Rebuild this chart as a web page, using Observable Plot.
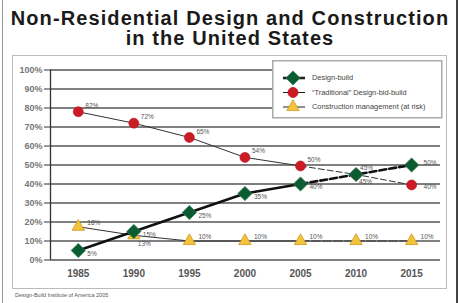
<!DOCTYPE html>
<html><head><meta charset="utf-8">
<script src="https://cdn.jsdelivr.net/npm/d3@7"></script>
<script src="https://cdn.jsdelivr.net/npm/@observablehq/plot@0.6"></script>
<style>
body{margin:0;background:#fff;font-family:"Liberation Sans",Arial,sans-serif;}
#wrap{position:relative;width:460px;height:303px;overflow:hidden;background:#fff;}
#outer{position:absolute;left:2px;top:-2px;width:453px;height:307px;border-left:1.5px solid #999;border-right:2px solid #444;}
#box{position:absolute;left:12px;top:55px;width:433px;height:232px;border:1.5px solid #bbb;}
#chart{position:absolute;left:0;top:0;}
#title{position:absolute;left:0;top:8px;width:460px;text-align:center;font-size:20px;font-weight:bold;line-height:20px;color:#1a1a1a;letter-spacing:1.1px;}
#caption{position:absolute;left:15px;top:292px;font-size:5.5px;color:#555;}
#legend{position:absolute;left:272px;top:60px;}
</style></head><body>
<div id="wrap">
  <div id="outer"></div>
  <div id="box"></div>
  <div id="chart"></div>
  <div id="legend"></div>
  <div id="title">Non-Residential Design and Construction<br>in the United States</div>
  <div id="caption">Design-Build Institute of America 2005</div>
</div>
<script>
const years = [1985, 1990, 1995, 2000, 2005, 2010, 2015];
const designBuild = [5, 15, 25, 35, 40, 45, 50];
const designBuildLabels = ["5%", "15%", "25%", "35%", "40%", "45%", "50%"];
const traditional = [78, 72, 64.5, 54, 49.5, 45, 39.5];
const traditionalLabels = ["82%", "72%", "65%", "54%", "50%", "45%", "40%"];
const constructionMgmt = [17.5, 13, 10, 10, 10, 10, 10];
const constructionMgmtLabels = ["18%", "13%", "10%", "10%", "10%", "10%", "10%"];
const yTicks = [0, 10, 20, 30, 40, 50, 60, 70, 80, 90, 100];
const seriesNames = ["Design-build", "\u201cTraditional\u201d Design-bid-build", "Construction management (at risk)"];
const lastActualYear = 2005;

const rows = (vals, labels, name) => years.map((year, i) => ({year, value: vals[i], label: labels[i], series: name}));
const dbRows = rows(designBuild, designBuildLabels, seriesNames[0]);
const trRows = rows(traditional, traditionalLabels, seriesNames[1]);
const cmRows = rows(constructionMgmt, constructionMgmtLabels, seriesNames[2]);

const GREEN = "#0b5b33", RED = "#cc1b25", YELLOW = "#f4c23c";
const lab = {fontSize: 6.5, fill: "#555", textAnchor: "start"};

function lines(data, style) {
  return [
    Plot.line(data.filter(d => d.year <= lastActualYear), {x: "year", y: "value", ...style}),
    Plot.line(data.filter(d => d.year >= lastActualYear), {x: "year", y: "value", ...style, strokeDasharray: style.dash})
  ];
}

const chart = Plot.plot({
  width: 460, height: 303,
  marginLeft: 50, marginRight: 20, marginTop: 69.5, marginBottom: 43.5,
  x: {domain: [1982.5, 2017.6]},
  y: {domain: [0, 100]},
  style: {background: "transparent", overflow: "visible", fontFamily: "Liberation Sans, Arial, sans-serif"},
  marks: [
    Plot.ruleY(yTicks, {stroke: "#555", strokeWidth: 1.3}),
    Plot.ruleX([1982.5], {y1: 0, y2: 100, stroke: "#333", strokeWidth: 1.3}),
    Plot.axisY({ticks: yTicks, tickSize: 6, tickPadding: 2, tickFormat: d => d + "%", fontSize: 9, fontWeight: "bold", fill: "#777", stroke: "#333", label: null}),
    Plot.axisX({ticks: years, tickSize: 0, tickPadding: 10, tickFormat: d => String(d), fontSize: 10, fontWeight: "bold", fill: "#555", label: null}),
    ...lines(cmRows, {stroke: "#333", strokeWidth: 1, dash: "9,2"}),
    ...lines(trRows, {stroke: "#333", strokeWidth: 1, dash: "6,3"}),
    ...lines(dbRows, {stroke: "#111", strokeWidth: 2.6, dash: "7,3"}),
    Plot.dot(cmRows, {x: "year", y: "value", symbol: "triangle", r: 4.6, fill: YELLOW, stroke: "#c99a1e", strokeWidth: 0.8}),
    Plot.dot(trRows, {x: "year", y: "value", r: 5, fill: RED, stroke: "#b0141c", strokeWidth: 0.6}),
    Plot.dot(dbRows, {x: "year", y: "value", symbol: "diamond2", r: 6.4, fill: GREEN, stroke: "#2e7a50", strokeWidth: 0.8}),
    // value labels
    Plot.text(cmRows.filter(d => d.year !== 1990), {x: "year", y: "value", text: "label", ...lab, dx: 9, dy: -4}),
    Plot.text(cmRows.filter(d => d.year === 1990), {x: "year", y: "value", text: "label", ...lab, dx: 4, dy: 9}),
    Plot.text(trRows.filter(d => d.year <= 2005), {x: "year", y: "value", text: "label", ...lab, dx: 7, dy: -6}),
    Plot.text(trRows.filter(d => d.year === 2010), {x: "year", y: "value", text: "label", ...lab, dx: 3, dy: 7}),
    Plot.text(trRows.filter(d => d.year === 2015), {x: "year", y: "value", text: "label", ...lab, dx: 12, dy: 2}),
    Plot.text(dbRows.filter(d => d.year !== 2010 && d.year !== 2015), {x: "year", y: "value", text: "label", ...lab, dx: 9, dy: 3}),
    Plot.text(dbRows.filter(d => d.year === 2010), {x: "year", y: "value", text: "label", ...lab, dx: 4, dy: -7}),
    Plot.text(dbRows.filter(d => d.year === 2015), {x: "year", y: "value", text: "label", ...lab, dx: 12, dy: -2})
  ]
});
document.getElementById("chart").appendChild(chart);

// legend
const lg = d3.select("#legend").append("svg").attr("width", 171).attr("height", 59);
lg.append("rect").attr("x", 0.75).attr("y", 0.75).attr("width", 169).attr("height", 57).attr("fill", "#fff").attr("stroke", "#aaa").attr("stroke-width", 1.5);
const legendItems = [
  {name: seriesNames[0], sym: d3.symbolDiamond2, size: Math.PI * 6.4 * 6.4, fill: GREEN, stroke: "#2e7a50", lw: 2.6},
  {name: seriesNames[1], sym: d3.symbolCircle, size: Math.PI * 25, fill: RED, stroke: "#b0141c", lw: 1},
  {name: seriesNames[2], sym: d3.symbolTriangle, size: Math.PI * 4.6 * 4.6, fill: YELLOW, stroke: "#c99a1e", lw: 1}
];
legendItems.forEach((it, i) => {
  const g = lg.append("g").attr("transform", `translate(21,${18 + i * 14.5})`);
  g.append("line").attr("x1", -10).attr("x2", 12).attr("stroke", "#222").attr("stroke-width", it.lw);
  g.append("path").attr("d", d3.symbol(it.sym, it.size)()).attr("fill", it.fill).attr("stroke", it.stroke).attr("stroke-width", 0.8);
  g.append("text").attr("x", 19).attr("dy", "0.32em").attr("font-size", 7.4).attr("fill", "#444").text(it.name);
});
</script>
</body></html>
